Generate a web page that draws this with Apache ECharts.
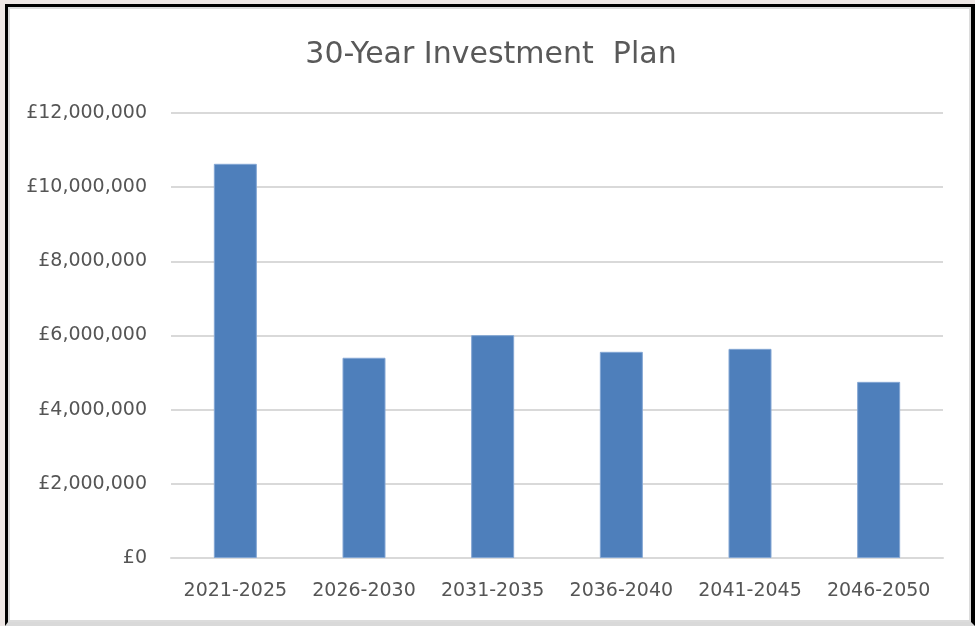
<!DOCTYPE html>
<html>
<head>
<meta charset="utf-8">
<script src="https://cdn.jsdelivr.net/npm/echarts@6/dist/echarts.min.js"></script>
<style>
  html, body { margin: 0; padding: 0; width: 975px; height: 626px; overflow: hidden; background: #eee7e5; }
  #frame { position: absolute; left: 5px; top: 4px; width: 970px; height: 622px; box-sizing: border-box;
           border-left: 3px solid #000; border-top: 3px solid #000; border-right: 4px solid #000;
           border-bottom: 4px solid #d9d9d9; background: #fff; box-shadow: inset 0 0 0 2px #dcdcdc; }
  #chart { position: absolute; left: 0; top: 0; width: 975px; height: 626px; }
</style>
</head>
<body>
<div id="frame"></div>
<div id="chart"></div>
<script>
const titleText = '30-Year Investment  Plan';
const categories = ['2021-2025', '2026-2030', '2031-2035', '2036-2040', '2041-2045', '2046-2050'];
const investment = [10630000, 5400000, 6010000, 5560000, 5640000, 4750000];
const yTicks = [0, 2000000, 4000000, 6000000, 8000000, 10000000, 12000000];

function gbp(v) {
  const s = String(Math.round(v)).replace(/\B(?=(\d{3})+(?!\d))/g, ',');
  return '£' + s;
}

const chart = echarts.init(document.getElementById('chart'), null, { renderer: 'canvas' });
chart.setOption({
  backgroundColor: 'transparent',
  animation: false,
  title: {
    text: titleText,
    left: 486,
    textAlign: 'center',
    top: 35,
    textStyle: { fontFamily: 'DejaVu Sans', fontSize: 30, fontWeight: 'normal', color: '#595959' }
  },
  grid: { left: 171, right: 32, top: 113, bottom: 68, containLabel: false },
  xAxis: {
    type: 'category',
    data: categories,
    axisLine: { show: true, lineStyle: { color: '#d9d9d9', width: 2 } },
    axisTick: { show: false },
    axisLabel: { interval: 0, hideOverlap: false, fontFamily: 'DejaVu Sans', fontSize: 19, color: '#555555', margin: 24 }
  },
  yAxis: {
    type: 'value',
    min: yTicks[0],
    max: yTicks[yTicks.length - 1],
    interval: yTicks[1] - yTicks[0],
    axisLine: { show: false },
    axisTick: { show: false },
    splitLine: { lineStyle: { color: '#d9d9d9', width: 2 } },
    axisLabel: { fontFamily: 'DejaVu Sans', fontSize: 19, color: '#555555', margin: 24, formatter: gbp }
  },
  series: [{
    type: 'bar',
    data: investment,
    barWidth: 43,
    itemStyle: { color: '#4e7fbb', borderColor: '#84a7d4', borderWidth: 1 }
  }]
});
</script>
</body>
</html>
